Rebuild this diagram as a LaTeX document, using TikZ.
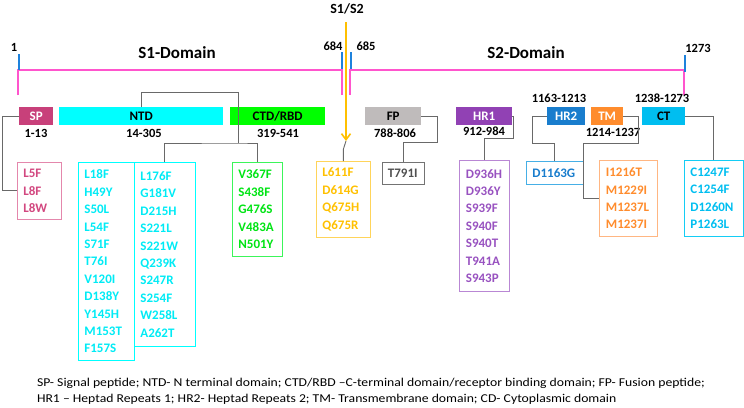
\documentclass[tikz,border=0pt]{standalone}
\usepackage{fontspec}
\setmainfont{Carlito}
\usetikzlibrary{arrows.meta, positioning}

\definecolor{spcol}{RGB}{200,64,122}
\definecolor{sptxt}{RGB}{210,72,128}
\definecolor{spbrd}{RGB}{228,135,172}
\definecolor{ntdcol}{RGB}{0,255,255}
\definecolor{ntdtxt}{RGB}{0,235,245}
\definecolor{ctdcol}{RGB}{0,255,0}
\definecolor{ctdtxt}{RGB}{0,228,20}
\definecolor{ctdbrd}{RGB}{60,245,90}
\definecolor{cutcol}{RGB}{255,192,0}
\definecolor{cutbrd}{RGB}{255,212,90}
\definecolor{fpcol}{RGB}{191,187,187}
\definecolor{fptxt}{RGB}{80,80,80}
\definecolor{fpbrd}{RGB}{115,115,115}
\definecolor{hronecol}{RGB}{145,65,180}
\definecolor{hronetxt}{RGB}{152,82,192}
\definecolor{hronebrd}{RGB}{185,135,212}
\definecolor{hrtwocol}{RGB}{25,125,205}
\definecolor{hrtwobrd}{RGB}{70,175,230}
\definecolor{tmcol}{RGB}{255,140,45}
\definecolor{tmbrd}{RGB}{255,182,130}
\definecolor{ctcol}{RGB}{0,190,240}
\definecolor{ctbrd}{RGB}{20,205,245}
\definecolor{linecol}{RGB}{255,85,205}
\definecolor{tickcol}{RGB}{30,130,220}
\definecolor{conncol}{RGB}{105,105,105}

\begin{document}
\begin{tikzpicture}[x=1pt, y=-1pt,
  dom/.style={anchor=north west, minimum height=18pt, inner sep=0pt,
    font=\fontsize{13}{15}\selectfont\bfseries},
  rng/.style={font=\fontsize{12.5}{14}\selectfont\bfseries},
  mut/.style={draw, line width=0.8pt, anchor=north west, inner xsep=6pt,
    inner ysep=0pt, align=left, font=\fontsize{13}{17.4}\selectfont\bfseries},
  conn/.style={draw=conncol, line width=0.9pt},
  domline/.style={draw=linecol, line width=1.8pt},
  tick/.style={draw=tickcol, line width=1.3pt},
  ttl/.style={font=\fontsize{17}{19}\selectfont\bfseries}]

  \useasboundingbox (0,0) rectangle (744,407);

  %% Domain lines
  \draw[domline] (18,95) -- (18,70) -- (342,70) -- (342,95);
  \draw[domline] (350,95) -- (350,70) -- (684,70) -- (684,95);
  \draw[tick] (19,54) -- (19,70);
  \draw[tick] (342,52) -- (342,69);
  \draw[tick] (351,52) -- (351,69);
  \draw[tick] (685,55) -- (685,72);
  \node[rng] (pone) at (14,47) {1};
  \node[rng] (pend) at (333,46) {684};
  \node[rng] (ptwo) at (366,46) {685};
  \node[rng] (plast) at (698,48) {1273};
  \node[ttl] (sone) at (177,53) {S1-Domain};
  \node[ttl] (stwo) at (526,53) {S2-Domain};

  %% Cleavage site
  \node[font=\fontsize{14}{16}\selectfont\bfseries] (cutlbl) at (347,9) {S1/S2};
  \coordinate (cut) at (346,22);
  \coordinate (cuttip) at (346,141);
  \draw[draw=cutcol, line width=1.6pt, -{Straight Barb[length=6pt, width=9pt]}]
    (cut) -- (cuttip);

  %% Domain boxes
  \node[dom, fill=spcol, text=white, minimum width=34pt] (sp) at (19,107) {SP};
  \node[dom, fill=ntdcol, minimum width=164pt] (ntd) at (59,107) {NTD};
  \node[dom, fill=ctdcol, minimum width=95pt] (ctd) at (230,107) {CTD/RBD};
  \node[dom, fill=fpcol, minimum width=56pt] (fp) at (365,107) {FP};
  \node[dom, fill=hronecol, text=white, minimum width=56pt] (hrone) at (456,107) {HR1};
  \node[dom, fill=hrtwocol, text=white, minimum width=38pt] (hrtwo) at (547,107) {HR2};
  \node[dom, fill=tmcol, text=white, minimum width=32pt] (tm) at (591,107) {TM};
  \node[dom, fill=ctcol, minimum width=43pt] (ct) at (642,107) {CT};

  \node[rng] (sprng) at (36,133) {1-13};
  \node[rng] (ntdrng) at (144,133) {14-305};
  \node[rng] (ctdrng) at (278,133) {319-541};
  \node[rng] (fprng) at (395,133) {788-806};
  \node[rng] (hronerng) at (484,131) {912-984};
  \node[rng] (hrtworng) at (559,98) {1163-1213};
  \node[rng] (tmrng) at (613,132) {1214-1237};
  \node[rng] (ctrng) at (662,98) {1238-1273};

  %% Mutation boxes
  \node[mut, draw=spbrd, text=sptxt, text width=32pt, minimum height=57pt]
    (spm) at (17,162) {L5F\\L8F\\L8W};
  \node[mut, draw=ntdcol, text=ntdtxt, text width=44pt, minimum height=198pt]
    (ntdma) at (78,162)
    {L18F\\H49Y\\S50L\\L54F\\S71F\\T76I\\V120I\\D138Y\\Y145H\\M153T\\F157S};
  \node[mut, draw=ntdcol, text=ntdtxt, text width=49pt, minimum height=184pt]
    (ntdmb) at (134,162)
    {L176F\\G181V\\D215H\\S221L\\S221W\\Q239K\\S247R\\S254F\\W258L\\A262T};
  \node[mut, draw=ctdbrd, text=ctdtxt, text width=38pt, minimum height=94pt]
    (ctdm) at (232,162) {V367F\\S438F\\G476S\\V483A\\N501Y};
  \node[mut, draw=cutbrd, text=cutcol, text width=42pt, minimum height=76pt]
    (cutm) at (316,161) {L611F\\D614G\\Q675H\\Q675R};
  \node[mut, draw=fpbrd, text=fptxt, text width=31pt, minimum height=22pt,
    inner xsep=5.5pt] (fpm) at (382,162) {T791I};
  \node[mut, draw=hronebrd, text=hronetxt, text width=37pt, minimum height=131pt,
    inner xsep=6.5pt] (hronem) at (459,160)
    {D936H\\D936Y\\S939F\\S940F\\S940T\\T941A\\S943P};
  \node[mut, draw=hrtwobrd, text=hrtwocol, text width=45pt, minimum height=23pt]
    (hrtwom) at (526,161) {D1163G};
  \node[mut, draw=tmbrd, text=tmcol, text width=45pt, minimum height=76pt,
    inner xsep=6.5pt] (tmm) at (599,160) {I1216T\\M1229I\\M1237L\\M1237I};
  \node[mut, draw=ctbrd, text=ctcol, text width=47pt, minimum height=76pt]
    (ctm) at (684,160) {C1247F\\C1254F\\D1260N\\P1263L};

  %% Connectors
  \coordinate (ntdj) at (238,143);
  \draw[conn] (sp.west) -- ++(-17,0) |- (spm.west);
  \draw[conn] (ntd.north) -- ++(0,-15) -| (ntdj);
  \draw[conn] (ntdmb.north) |- (ntdj) -| (ctdm.north);
  \draw[conn] (cutm.north) -- ++(0,-12) -- (cuttip);
  \draw[conn] (fp.east) -- ++(16,0) -- ++(0,26) -| (fpm.north);
  \draw[conn] (hrone.east) -- ++(1.5,0) -- ++(0,22) -| (hronem.north);
  \draw[conn] (hrtwo.west) -- ++(-15,0) -- ++(0,27) -| (hrtwom.north);
  \draw[conn] (tm.east) -- ++(15,0) -- ++(0,27) -- ++(-55,0) |- (tmm.west);
  \draw[conn] (ct.east) -| (ctm.north);

  %% Legend
  \node[anchor=west, align=left, xscale=1.14, transform shape,
    font=\fontsize{12}{16}\selectfont] (legend) at (33,391)
    {SP- Signal peptide; NTD- N terminal domain; CTD/RBD –C-terminal domain/receptor binding domain; FP- Fusion peptide;\\
     HR1 – Heptad Repeats 1; HR2- Heptad Repeats 2; TM- Transmembrane domain; CD- Cytoplasmic domain};

\end{tikzpicture}
\end{document}
